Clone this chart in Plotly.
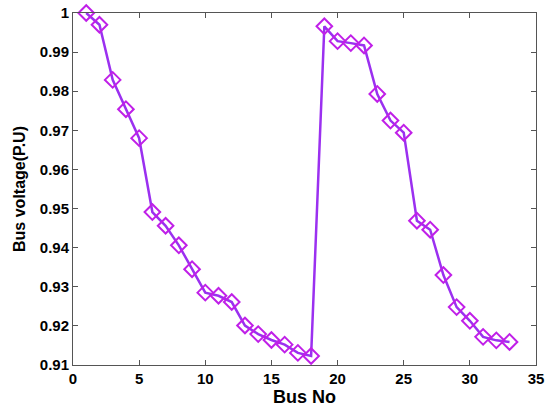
import plotly.graph_objects as go

bus_no = list(range(1, 34))
voltage = [1.0, 0.997, 0.9829, 0.9754, 0.968, 0.9491, 0.9456, 0.9406, 0.9345, 0.9285,
           0.9277, 0.9261, 0.9201, 0.9179, 0.9164, 0.9152, 0.9131, 0.9123, 0.9966, 0.9928,
           0.9923, 0.9917, 0.9793, 0.9725, 0.9694, 0.9469, 0.9446, 0.9330, 0.9248, 0.9213,
           0.9172, 0.9163, 0.9159]
y_ticks = [0.91, 0.92, 0.93, 0.94, 0.95, 0.96, 0.97, 0.98, 0.99, 1.0]
y_tick_labels = ["0.91", "0.92", "0.93", "0.94", "0.95", "0.96", "0.97", "0.98", "0.99", "1"]
x_ticks = [0, 5, 10, 15, 20, 25, 30, 35]

fig = go.Figure()
fig.add_trace(go.Scatter(
    x=bus_no, y=voltage, mode="lines+markers", cliponaxis=False,
    line=dict(color="#9b30f0", width=2.5),
    marker=dict(symbol="diamond-open", size=12, color="#c020e8", line=dict(width=2, color="#b026e8")),
    showlegend=False,
))

fnt = "Liberation Sans, Arial, sans-serif"
fig.update_layout(
    width=550, height=416,
    margin=dict(l=73, r=14, t=13, b=51),
    plot_bgcolor="white", paper_bgcolor="white",
    font=dict(family=fnt, color="black"),
)
fig.update_xaxes(
    range=[0, 35], tickvals=x_ticks, ticks="inside", ticklen=5, tickcolor="#555",
    showline=True, linecolor="#555", linewidth=1, mirror="ticks", showgrid=False, zeroline=False,
    automargin=False,
    tickfont=dict(size=15, family=fnt, weight="bold"),
    title=dict(text="<b>Bus No</b>", font=dict(size=18), standoff=0),
)
fig.update_yaxes(
    range=[0.91, 1.0], tickvals=y_ticks, ticktext=y_tick_labels, ticks="inside", ticklen=5, tickcolor="#555",
    showline=True, linecolor="#555", linewidth=1, mirror="ticks", showgrid=False, zeroline=False,
    automargin=False,
    tickfont=dict(size=15, family=fnt, weight="bold"),
    title=dict(text="<b>Bus voltage(P.U)</b>", font=dict(size=16), standoff=10),
)
fig.write_html("out.html", post_script="document.body.style.margin='0';",
               config={"displayModeBar": False})
